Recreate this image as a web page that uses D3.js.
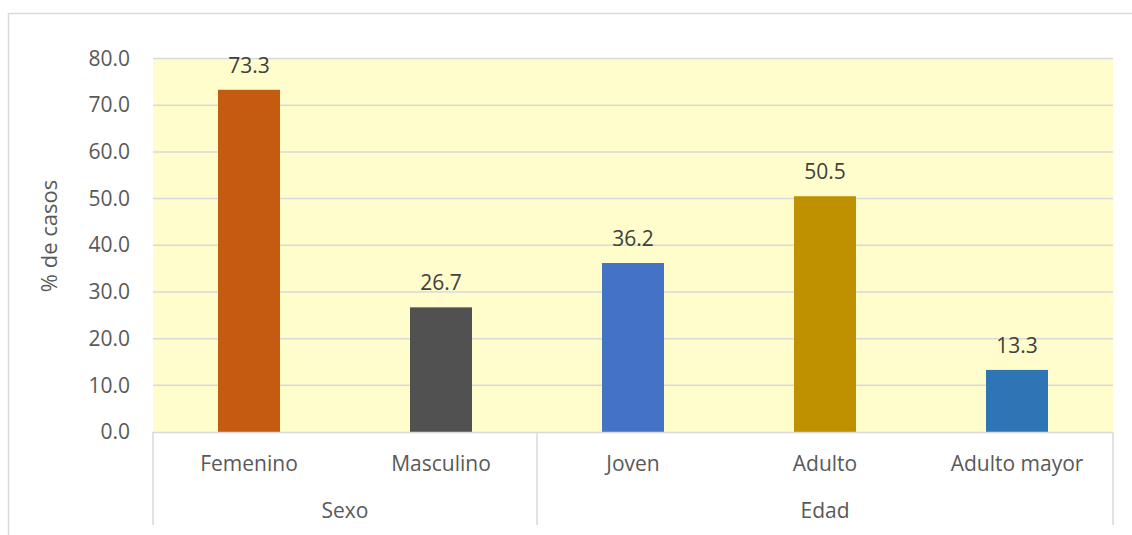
<!DOCTYPE html>
<html>
<head>
<meta charset="utf-8">
<script src="https://cdn.jsdelivr.net/npm/d3@7"></script>
<style>
  html, body { margin: 0; padding: 0; background: #fff; }
  svg { display: block; font-family: "Open Sans", "Noto Sans", sans-serif; }
</style>
</head>
<body>
<svg id="chart" width="1132" height="535"></svg>
<script>
// Share of cases by sex and age group
const categories = ["Femenino", "Masculino", "Joven", "Adulto", "Adulto mayor"];
const groups = ["Sexo", "Sexo", "Edad", "Edad", "Edad"];
const values = [73.3, 26.7, 36.2, 50.5, 13.3];
const colors = ["#C55A11", "#515151", "#4472C4", "#BF9000", "#2E75B6"];
const yTicks = [0, 10, 20, 30, 40, 50, 60, 70, 80];

const FS = "21px";
const svg = d3.select("#chart");
const plot = { left: 153, right: 1113, top: 58.5, bottom: 432 };

// outer chart frame
svg.append("rect")
  .attr("x", 8.5).attr("y", 13.5)
  .attr("width", 1140).attr("height", 540)
  .attr("fill", "#fff").attr("stroke", "#d9d9d9").attr("stroke-width", 1.5);

const x = d3.scaleBand().domain(categories).range([plot.left, plot.right]).paddingInner(0).paddingOuter(0);
const y = d3.scaleLinear().domain([0, 80]).range([plot.bottom, plot.top]);

// plot background
svg.append("rect")
  .attr("x", plot.left).attr("y", plot.top)
  .attr("width", plot.right - plot.left).attr("height", plot.bottom - plot.top)
  .attr("fill", "#FFFDCC");

// gridlines
svg.append("g").selectAll("line").data(yTicks.slice(1)).join("line")
  .attr("x1", plot.left).attr("x2", plot.right)
  .attr("y1", d => y(d)).attr("y2", d => y(d))
  .attr("stroke", "#d9d9d9").attr("stroke-width", 1.5);

// y axis labels
const yAxis = d3.axisLeft(y).tickValues(yTicks).tickFormat(d3.format(".1f")).tickSize(0).tickPadding(0);
const ya = svg.append("g").attr("transform", `translate(${plot.left - 23},0)`).call(yAxis)
  .attr("font-family", null).attr("font-size", null);
ya.select(".domain").remove();
ya.selectAll("text").attr("fill", "#595959").style("font-size", FS);

// bars
const barW = 62;
svg.append("g").selectAll("rect").data(values).join("rect")
  .attr("x", (d, i) => x(categories[i]) + x.bandwidth() / 2 - barW / 2)
  .attr("y", d => y(d))
  .attr("width", barW)
  .attr("height", d => y(0) - y(d))
  .attr("fill", (d, i) => colors[i]);

// value labels
svg.append("g").selectAll("text").data(values).join("text")
  .attr("x", (d, i) => x(categories[i]) + x.bandwidth() / 2)
  .attr("y", d => y(d) - 17)
  .attr("text-anchor", "middle")
  .attr("fill", "#404040")
  .style("font-size", FS)
  .text(d => d3.format(".1f")(d));

// x axis baseline
svg.append("line")
  .attr("x1", plot.left).attr("x2", plot.right)
  .attr("y1", plot.bottom + 0.5).attr("y2", plot.bottom + 0.5)
  .attr("stroke", "#d9d9d9").attr("stroke-width", 1.5);

// category labels
const xAxis = d3.axisBottom(x).tickSize(0).tickPadding(0);
const xa = svg.append("g").attr("transform", `translate(0,471)`).call(xAxis)
  .attr("font-family", null).attr("font-size", null);
xa.select(".domain").remove();
xa.selectAll("text").attr("dy", null).attr("y", 0)
  .attr("fill", "#595959").style("font-size", FS);

// group separators and labels
const groupNames = Array.from(new Set(groups));
const groupSpans = groupNames.map(g => {
  const members = categories.filter((c, i) => groups[i] === g);
  return { name: g, x0: x(members[0]), x1: x(members[members.length - 1]) + x.bandwidth() };
});
const bounds = [plot.left, ...groupSpans.map(s => s.x1)];
svg.append("g").selectAll("line").data(bounds).join("line")
  .attr("x1", d => d).attr("x2", d => d)
  .attr("y1", plot.bottom).attr("y2", 525)
  .attr("stroke", "#d9d9d9").attr("stroke-width", 1.5);

svg.append("g").selectAll("text").data(groupSpans).join("text")
  .attr("x", d => (d.x0 + d.x1) / 2)
  .attr("y", 518)
  .attr("text-anchor", "middle")
  .attr("fill", "#595959")
  .style("font-size", FS)
  .text(d => d.name);

// y axis title
svg.append("text")
  .attr("transform", "translate(57,236) rotate(-90)")
  .attr("text-anchor", "middle")
  .attr("fill", "#595959")
  .style("font-size", "22px")
  .text("% de casos");
</script>
</body>
</html>
